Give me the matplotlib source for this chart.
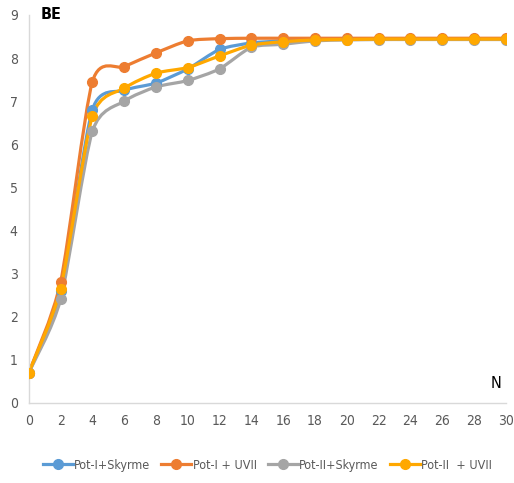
import numpy as np
import matplotlib
matplotlib.use('Agg')
import matplotlib.pyplot as plt
from matplotlib.path import Path
from matplotlib.patches import PathPatch
from matplotlib.lines import Line2D

plt.rcParams['font.family'] = ['DejaVu Sans']
plt.rcParams['font.stretch'] = 'condensed'

N = [0, 2, 4, 6, 8, 10, 12, 14, 16, 18, 20, 22, 24, 26, 28, 30]

pot1_skyrme = [0.70, 2.60, 6.80, 7.25, 7.42, 7.75, 8.20, 8.35, 8.40, 8.44, 8.45, 8.45, 8.45, 8.45, 8.45, 8.45]
pot1_uvii = [0.70, 2.80, 7.45, 7.80, 8.12, 8.40, 8.45, 8.46, 8.46, 8.46, 8.46, 8.46, 8.46, 8.46, 8.46, 8.46]
pot2_skyrme = [0.70, 2.40, 6.30, 7.00, 7.33, 7.48, 7.75, 8.25, 8.32, 8.40, 8.42, 8.43, 8.43, 8.43, 8.43, 8.43]
pot2_uvii = [0.70, 2.65, 6.65, 7.30, 7.65, 7.78, 8.05, 8.30, 8.38, 8.42, 8.43, 8.44, 8.44, 8.44, 8.44, 8.44]

labels = ['Pot-I+Skyrme', 'Pot-I + UVII', 'Pot-II+Skyrme', 'Pot-II  + UVII']
colors = ['#5B9BD5', '#ED7D31', '#A5A5A5', '#FFA800']
series = [pot1_skyrme, pot1_uvii, pot2_skyrme, pot2_uvii]


def smooth_path(x, y, t=0.12):
    # catmull-rom style bezier through the points (like excel "smoothed line")
    x = np.asarray(x, float)
    y = np.asarray(y, float)
    verts = [(x[0], y[0])]
    codes = [Path.MOVETO]
    n = len(x)
    for i in range(n - 1):
        i0 = max(i - 1, 0)
        i3 = min(i + 2, n - 1)
        c1 = (x[i] + (x[i + 1] - x[i0]) * t, y[i] + (y[i + 1] - y[i0]) * t)
        c2 = (x[i + 1] - (x[i3] - x[i]) * t, y[i + 1] - (y[i3] - y[i]) * t)
        verts += [c1, c2, (x[i + 1], y[i + 1])]
        codes += [Path.CURVE4] * 3
    return Path(verts, codes)


fig = plt.figure(figsize=(5.14, 4.83), dpi=100)
ax = fig.add_axes([0.056, 0.166, 0.928, 0.803])

for vals, c in zip(series, colors):
    ax.add_patch(PathPatch(smooth_path(N, vals), facecolor='none', edgecolor=c, lw=2.3, zorder=2))
    ax.plot(N, vals, 'o', color=c, markersize=7, zorder=3)

ax.set_xlim(0, 30)
ax.set_ylim(0, 9)
ax.set_xticks(N)
ax.set_yticks(range(10))
for s in ['top', 'right']:
    ax.spines[s].set_visible(False)
for s in ['left', 'bottom']:
    ax.spines[s].set_color('#D9D9D9')
    ax.spines[s].set_linewidth(1)
ax.tick_params(length=0, labelsize=10, labelcolor='#595959', pad=8)

ax.text(0.025, 1.0, 'BE', transform=ax.transAxes, fontsize=11.5, fontweight='bold', va='center', ha='left')
ax.text(0.99, 0.05, 'N', transform=ax.transAxes, fontsize=11.5, va='center', ha='right')

handles = [Line2D([], [], color=c, lw=2.3, marker='o', markersize=7) for c in colors]
fig.legend(handles, labels, loc='center', bbox_to_anchor=(0.52, 0.037), ncol=4, frameon=False,
           fontsize=9, labelcolor='#595959', handlelength=2.4, handletextpad=0.1, columnspacing=0.9)

fig.savefig('out.png', dpi=100)
